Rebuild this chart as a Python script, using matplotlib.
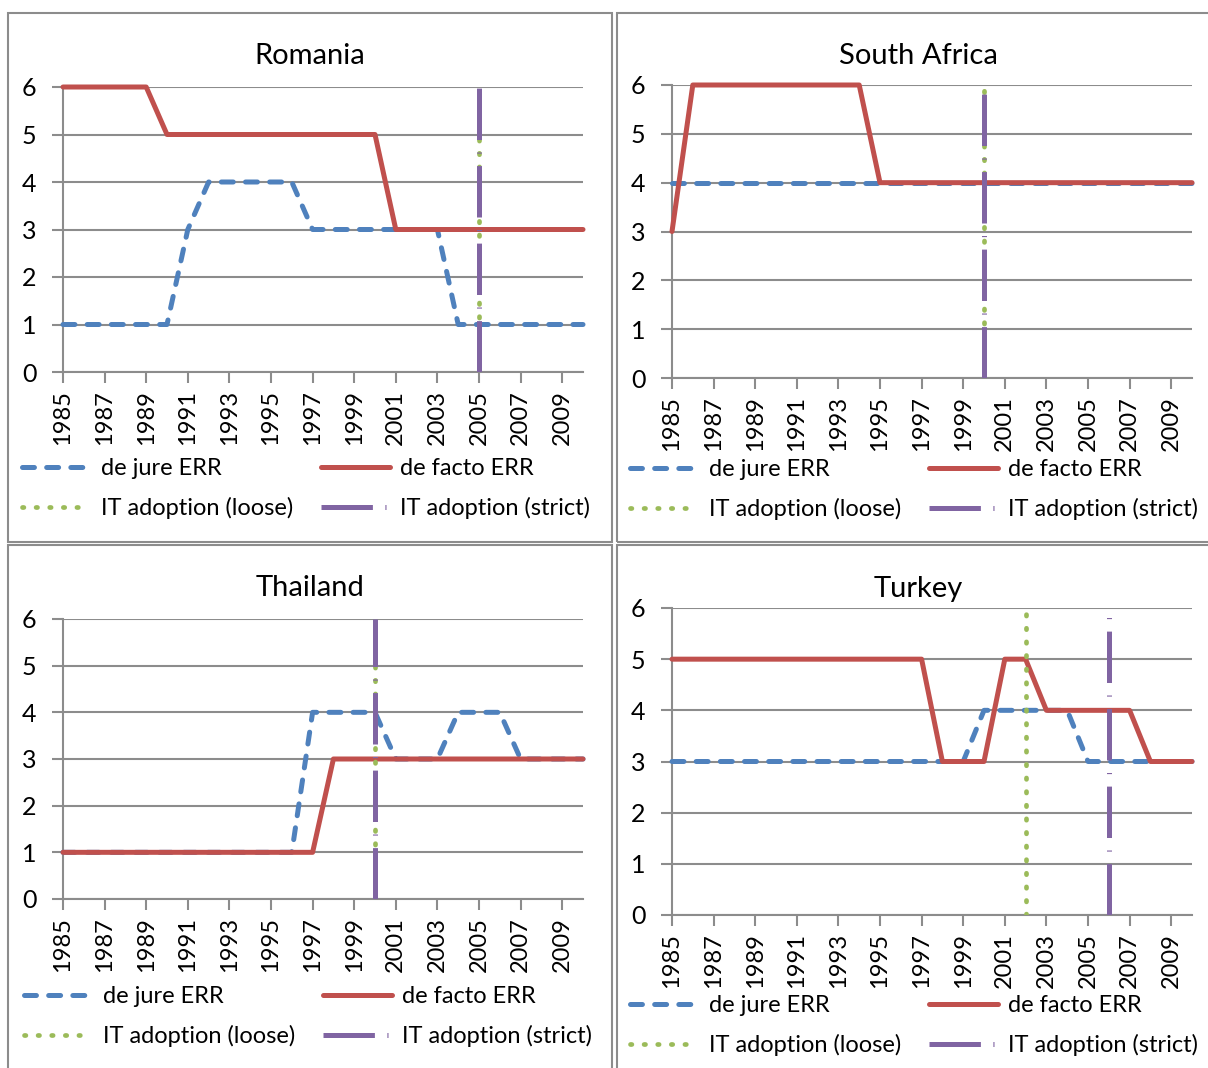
import matplotlib
matplotlib.use("Agg")
import matplotlib.pyplot as plt
from matplotlib.patches import Rectangle

plt.rcParams['font.family'] = ['Lato', 'DejaVu Sans']
plt.rcParams['lines.scale_dashes'] = False

years = list(range(1985, 2011))

countries = ["Romania", "South Africa", "Thailand", "Turkey"]

romania_dejure = [1, 1, 1, 1, 1, 1, 3, 4, 4, 4, 4, 4, 3, 3, 3, 3, 3, 3, 3, 1, 1, 1, 1, 1, 1, 1]
romania_defacto = [6, 6, 6, 6, 6, 5, 5, 5, 5, 5, 5, 5, 5, 5, 5, 5, 3, 3, 3, 3, 3, 3, 3, 3, 3, 3]
romania_it_loose = 2005
romania_it_strict = 2005

safrica_dejure = [4] * 26
safrica_defacto = [3, 6, 6, 6, 6, 6, 6, 6, 6, 6, 4, 4, 4, 4, 4, 4, 4, 4, 4, 4, 4, 4, 4, 4, 4, 4]
safrica_it_loose = 2000
safrica_it_strict = 2000

thailand_dejure = [1, 1, 1, 1, 1, 1, 1, 1, 1, 1, 1, 1, 4, 4, 4, 4, 3, 3, 3, 4, 4, 4, 3, 3, 3, 3]
thailand_defacto = [1, 1, 1, 1, 1, 1, 1, 1, 1, 1, 1, 1, 1, 3, 3, 3, 3, 3, 3, 3, 3, 3, 3, 3, 3, 3]
thailand_it_loose = 2000
thailand_it_strict = 2000

turkey_dejure = [3, 3, 3, 3, 3, 3, 3, 3, 3, 3, 3, 3, 3, 3, 3, 4, 4, 4, 4, 4, 3, 3, 3, 3, 3, 3]
turkey_defacto = [5, 5, 5, 5, 5, 5, 5, 5, 5, 5, 5, 5, 5, 3, 3, 3, 5, 5, 4, 4, 4, 4, 4, 3, 3, 3]
turkey_it_loose = 2002
turkey_it_strict = 2006

it_range = [0, 6]
xtick_years = list(range(1985, 2010, 2))
yticks = [0, 1, 2, 3, 4, 5, 6]

labels = ["de jure ERR", "de facto ERR", "IT adoption (loose)", "IT adoption (strict)"]

data = {
    "Romania": (romania_dejure, romania_defacto, romania_it_loose, romania_it_strict),
    "South Africa": (safrica_dejure, safrica_defacto, safrica_it_loose, safrica_it_strict),
    "Thailand": (thailand_dejure, thailand_defacto, thailand_it_loose, thailand_it_strict),
    "Turkey": (turkey_dejure, turkey_defacto, turkey_it_loose, turkey_it_strict),
}

W, H = 1208, 1068
fig = plt.figure(figsize=(W / 100, H / 100), dpi=100)

def fx(px):
    return px / W

def fy(py):
    return 1 - py / H

layout = {
    "Romania": dict(ax=(63, 583, 87, 372), title=(310, 64), leg=(22, 458), panel=(8, 13, 612, 542)),
    "South Africa": dict(ax=(672, 1192, 85, 378), title=(918, 64), leg=(630, 459), panel=(617, 13, 1220, 542)),
    "Thailand": dict(ax=(63, 583, 619, 899), title=(310, 596), leg=(24, 986), panel=(8, 545, 612, 1080)),
    "Turkey": dict(ax=(672, 1192, 608, 915), title=(918, 597), leg=(630, 995), panel=(617, 545, 1220, 1080)),
}

c_jure = "#4F81BD"
c_facto = "#C0504D"
c_loose = "#9BBB59"
c_strict = "#8064A2"
c_grid = "#8C8C8C"

FS = 17

jure_dash = (0, (8.6, 8.8))
loose_dash = (0, (1.0, 8.8))
strict_dash = (0, (37, 9, 0.8, 9))

for name in countries:
    lay = layout[name]
    l, r, t, b = lay["ax"]
    ax = fig.add_axes([fx(l), fy(b), fx(r) - fx(l), fy(t) - fy(b)])
    dj, df, il, ist = data[name]
    ax.plot(years, dj, color=c_jure, lw=3.6, linestyle=jure_dash, dash_capstyle='round',
            label=labels[0], zorder=3, clip_on=False)
    ax.plot(years, df, color=c_facto, lw=3.6, solid_capstyle='round', solid_joinstyle='round',
            label=labels[1], zorder=4, clip_on=False)
    ax.plot([il, il], it_range, color=c_loose, lw=3.4, linestyle=loose_dash, dash_capstyle='round',
            label=labels[2], zorder=5)
    ax.plot([ist, ist], it_range, color=c_strict, lw=3.6, linestyle=strict_dash, dash_capstyle='butt',
            label=labels[3], zorder=6)
    ax.set_xlim(1985, 2010)
    ax.set_ylim(0, 6)
    ax.set_xticks(xtick_years)
    ax.set_xticklabels([str(y) for y in xtick_years], rotation=90, fontsize=FS)
    ax.set_yticks(yticks)
    ax.set_yticklabels([str(v) for v in yticks], fontsize=18)
    ax.tick_params(axis='x', direction='out', length=8, width=1.5, color=c_grid, pad=5)
    ax.tick_params(axis='y', direction='out', length=8, width=1.5, color=c_grid, pad=11)
    ax.grid(axis='y', color=c_grid, lw=1.5, zorder=1)
    ax.set_axisbelow(True)
    for s in ['top', 'right']:
        ax.spines[s].set_visible(False)
    for s in ['left', 'bottom']:
        ax.spines[s].set_color(c_grid)
        ax.spines[s].set_linewidth(1.5)
    ax.patch.set_alpha(0)

    fig.text(fx(lay["title"][0]), fy(lay["title"][1]), name, ha='center', va='baseline', fontsize=21)

    h = ax.get_legend_handles_labels()[0]
    order = [0, 2, 1, 3]
    lx, ly = lay["leg"]
    ax.legend([h[i] for i in order], [labels[i] for i in order], ncol=2, loc='upper left',
              bbox_to_anchor=(fx(lx), fy(ly)), bbox_transform=fig.transFigure,
              frameon=False, fontsize=FS, handlelength=2.9, handletextpad=0.45,
              columnspacing=1.18, labelspacing=0.75, borderpad=0, borderaxespad=0)

    pl, pt, pr, pb = lay["panel"]
    fig.add_artist(Rectangle((fx(pl), fy(pb)), fx(pr) - fx(pl), fy(pt) - fy(pb),
                             transform=fig.transFigure, fill=False, edgecolor=c_grid, lw=1.5))

fig.savefig("out.png", dpi=100)
